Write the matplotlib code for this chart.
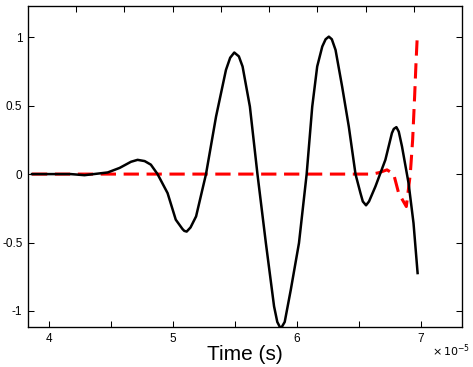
import numpy as np
import matplotlib.pyplot as plt

plt.rcParams['font.family'] = ['Liberation Sans', 'DejaVu Sans']

# time in units of 1e-5 s
t_black = [3.861, 4.174, 4.285, 4.472, 4.568, 4.66, 4.713, 4.77, 4.820, 4.874,
           4.955, 5.021, 5.075, 5.09, 5.109, 5.14, 5.185, 5.265, 5.346, 5.426,
           5.46, 5.493, 5.53, 5.560, 5.619, 5.680, 5.748, 5.814, 5.84, 5.868,
           5.90, 5.949, 6.015, 6.077, 6.122, 6.162, 6.203, 6.23, 6.256, 6.28,
           6.310, 6.363, 6.417, 6.471, 6.511, 6.53, 6.556, 6.58, 6.632, 6.712,
           6.765, 6.78, 6.801, 6.82, 6.846, 6.899, 6.939, 6.972]
y_black = [0.0, 0.0, -0.008, 0.012, 0.045, 0.09, 0.104, 0.095, 0.069, 0.0,
           -0.139, -0.333, -0.401, -0.415, -0.42, -0.39, -0.309, 0.0, 0.420, 0.761,
           0.85, 0.888, 0.86, 0.786, 0.493, 0.0, -0.504, -0.966, -1.08, -1.13,
           -1.08, -0.845, -0.504, 0.0, 0.493, 0.786, 0.932, 0.985, 1.004, 0.985,
           0.907, 0.640, 0.347, 0.0, -0.139, -0.2, -0.228, -0.2, -0.090, 0.104,
           0.300, 0.33, 0.343, 0.31, 0.202, -0.066, -0.358, -0.723]

t_red = [3.861, 6.605, 6.659, 6.725, 6.779, 6.819, 6.881, 6.913, 6.932, 6.948,
         6.959, 6.969]
y_red = [0.0, 0.0, 0.01, 0.031, 0.0, -0.139, -0.237, 0.0, 0.250, 0.568,
         0.809, 1.0]

x_ticks = [4, 4.5, 5, 5.5, 6, 6.5, 7]
x_labels = ['4', '', '5', '', '6', '', '7']
y_ticks = [-1, -0.5, 0, 0.5, 1]
y_labels = ['-1', '-0.5', '0', '0.5', '1']

fig = plt.figure(figsize=(4.73, 3.67), dpi=100)
ax = fig.add_axes([0.0592, 0.109, 0.9175, 0.8747])

ax.plot(t_black, y_black, color='black', lw=1.8, zorder=3)
ax.plot(t_red, y_red, color='red', lw=2.2, dashes=(5, 2.5), zorder=2)

ax.set_xlim(3.829, 7.33)
ax.set_ylim(-1.117, 1.228)

ax.set_xticks(x_ticks)
ax.set_xticklabels(x_labels)
ax.set_yticks(y_ticks)
ax.set_yticklabels(y_labels)
ax.tick_params(direction='in', length=4.5, width=0.75, labelsize=8.5,
               right=True, top=False)
ax.tick_params(axis='x', pad=4)
ax.tick_params(axis='y', pad=4)
for s in ax.spines.values():
    s.set_linewidth(0.9)

# top ticks (separate axis)
ax2 = ax.twiny()
ax2.set_xlim(0, 9)
ax2.set_xticks(range(1, 9))
ax2.set_xticklabels([])
ax2.tick_params(direction='in', length=4.5, width=0.75)

ax.set_xlabel('Time (s)', fontsize=15, labelpad=0)
ax.text(0.932, -0.075, r'$\times\,10^{-5}$', transform=ax.transAxes,
        fontsize=8, ha='left', va='center', math_fontfamily='dejavusans')

fig.savefig('out.png', dpi=100)
